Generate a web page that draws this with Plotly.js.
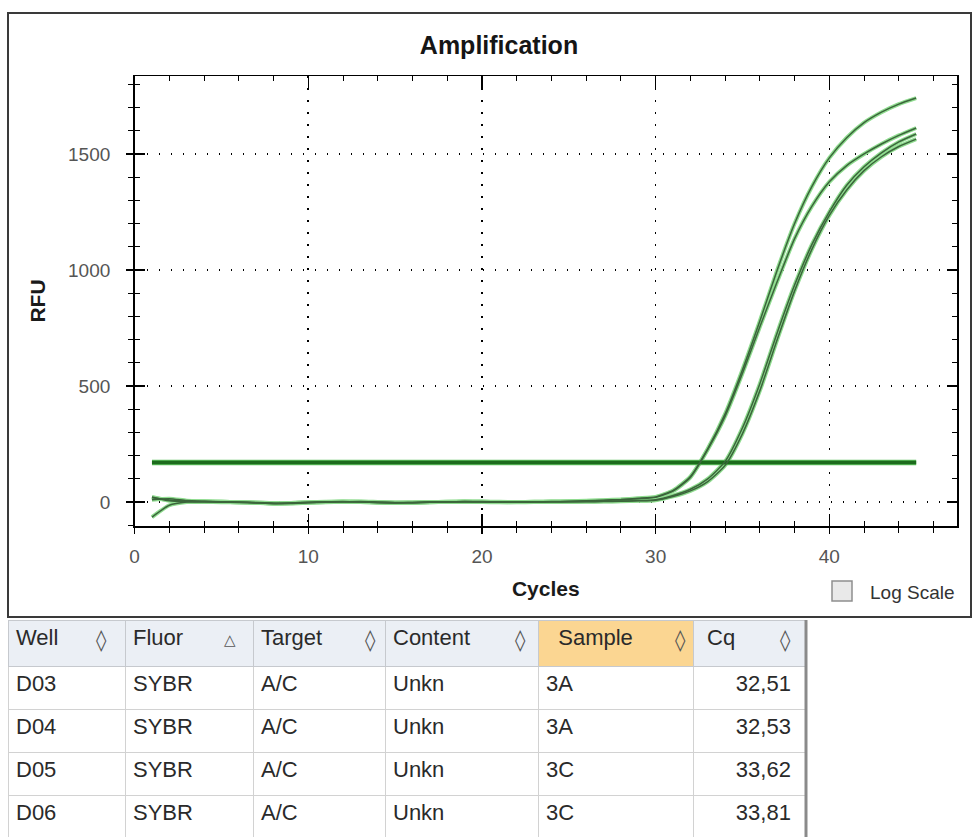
<!DOCTYPE html>
<html>
<head>
<meta charset="utf-8">
<script src="https://cdn.plot.ly/plotly-3.0.1.min.js"></script>
<style>
html, body { margin: 0; padding: 0; background: #ffffff; }
#chart { width: 976px; height: 837px; }
</style>
</head>
<body>
<div id="chart"></div>
<script>
// ---------- data ----------
const cycles = [1,2,3,4,5,6,7,8,9,10,11,12,13,14,15,16,17,18,19,20,21,22,23,24,25,26,27,28,29,30,31,32,33,34,35,36,37,38,39,40,41,42,43,44,45];

const rfuD03 = [18,9,4,2,1,-1,-4,-7,-5,-2,0,1,0,-2,-3,-2,0,1,2,1,0,0,1,2,3,5,8,11,16,22,50,110,230,380,570,780,1000,1200,1360,1483,1570,1635,1680,1715,1741];
const rfuD04 = [10,14,6,3,1,0,-2,-5,-6,-3,-1,1,2,0,-2,-3,-1,0,2,2,1,0,0,1,2,4,7,10,14,20,47,106,226,370,555,755,950,1135,1275,1380,1450,1500,1543,1580,1612];
const rfuD05 = [22,5,1,0,-1,-2,-3,-6,-4,-1,1,2,0,-3,-4,-2,0,1,1,0,-1,0,1,1,1,2,3,4,6,10,28,55,100,175,320,510,730,935,1110,1250,1365,1445,1505,1552,1586];
const rfuD06 = [-65,-14,0,2,1,-1,-3,-5,-4,-2,0,1,1,-1,-3,-3,-1,0,1,1,0,-1,0,1,1,1,2,3,5,8,24,48,88,158,295,480,700,910,1090,1235,1345,1428,1488,1532,1564];

const thresholdCycles = [1, 45];
const thresholdRFU = [170, 170];

const columnNames = ['Well', 'Fluor', 'Target', 'Content', 'Sample', 'Cq'];
const wells    = ['D03', 'D04', 'D05', 'D06'];
const fluors   = ['SYBR', 'SYBR', 'SYBR', 'SYBR'];
const targets  = ['A/C', 'A/C', 'A/C', 'A/C'];
const contents = ['Unkn', 'Unkn', 'Unkn', 'Unkn'];
const samples  = ['3A', '3A', '3C', '3C'];
const cqValues = [32.51, 32.53, 33.62, 33.81];
const sortGlyphs = ['\u25CA', '\u25B3', '\u25CA', '\u25CA', '\u25CA', '\u25CA'];

const chartTitle = 'Amplification';
const xTitle = 'Cycles';
const yTitle = 'RFU';
const logScaleLabel = 'Log Scale';

// ---------- helpers (pixel -> paper) ----------
const W = 976, H = 837;
const px = x => x / W;
const py = y => 1 - y / H;

const FONT = 'Liberation Sans, Arial, sans-serif';
const series = [rfuD03, rfuD04, rfuD05, rfuD06];

const traces = [];
// light green halo layer
series.forEach(s => traces.push({
  type: 'scatter', mode: 'lines', x: cycles, y: s,
  line: { color: '#8fdc8f', width: 4, shape: 'spline', smoothing: 0.6 },
  hoverinfo: 'skip', showlegend: false
}));
// threshold
traces.push({
  type: 'scatter', mode: 'lines', x: thresholdCycles, y: thresholdRFU,
  line: { color: '#5cbf5c', width: 5.5 }, hoverinfo: 'skip', showlegend: false
});
traces.push({
  type: 'scatter', mode: 'lines', x: thresholdCycles, y: thresholdRFU,
  line: { color: '#1d6b1d', width: 3.5 }, hoverinfo: 'skip', showlegend: false
});
// dark core layer
series.forEach((s, i) => traces.push({
  type: 'scatter', mode: 'lines', x: cycles, y: s, name: wells[i],
  line: { color: '#3b653b', width: 1.5, shape: 'spline', smoothing: 0.6 },
  showlegend: false
}));
// empty trace for the overlay (inside-tick) axes
traces.push({ type: 'scatter', mode: 'lines', x: [], y: [], xaxis: 'x2', yaxis: 'y2', showlegend: false, hoverinfo: 'skip' });

// table
const headerFill = columnNames.map(c => c === 'Sample' ? '#fbd692' : '#ebeff5');
const headerText = columnNames.map(c => c === 'Sample' ? '\u00a0\u00a0' + c : (c === 'Cq' ? '\u00a0' + c : c));
const cqText = cqValues.map(v => v.toFixed(2).replace('.', ','));
traces.push({
  type: 'table',
  domain: { x: [px(8), px(805)], y: [0, py(620)] },
  columnwidth: [117, 128, 132, 153, 155, 112],
  header: {
    values: headerText,
    align: 'left',
    height: 46,
    fill: { color: headerFill },
    line: { color: '#c6c9ce', width: 1 },
    font: { family: FONT, size: 22, color: '#2a2a2a' }
  },
  cells: {
    values: [wells, fluors, targets, contents, samples, cqText],
    align: ['left', 'left', 'left', 'left', 'left', 'right'],
    suffix: ['', '', '', '', '', '\u00a0'],
    height: 43,
    fill: { color: '#ffffff' },
    line: { color: '#d2d2d2', width: 1 },
    font: { family: FONT, size: 22, color: '#2a2a2a' }
  }
});

const xDomain = [px(134.6), px(957)];
const yDomain = [py(526), py(76)];
const xRange = [0, 47.35];
const yRange = [-103.4, 1836];

const gridDash = '1.6px,10.4px';

const layout = {
  width: W, height: H,
  margin: { l: 0, r: 0, t: 0, b: 0, pad: 0 },
  paper_bgcolor: '#ffffff', plot_bgcolor: '#ffffff',
  showlegend: false,
  title: {
    text: chartTitle,
    font: { family: FONT, size: 25, weight: 'bold', color: '#151515' },
    x: px(499), xref: 'paper', xanchor: 'center',
    y: py(45), yref: 'container', yanchor: 'middle'
  },
  xaxis: {
    domain: xDomain, range: xRange, anchor: 'y',
    showline: true, linecolor: '#000', linewidth: 1.5, mirror: true,
    ticks: 'outside', ticklen: 6, tickwidth: 1.5, tickcolor: '#000',
    tick0: 0, dtick: 10,
    minor: { dtick: 2, tick0: 0, ticks: 'outside', ticklen: 5, tickwidth: 1, tickcolor: '#000', showgrid: false },
    showgrid: true, gridcolor: '#000', gridwidth: 1.6, griddash: gridDash,
    zeroline: false,
    tickfont: { family: FONT, size: 19, color: '#555' },
    ticklabelstandoff: 7,
    title: { text: xTitle, font: { family: FONT, size: 21, weight: 'bold', color: '#1a1a1a' }, standoff: 15 }
  },
  yaxis: {
    domain: yDomain, range: yRange, anchor: 'x',
    showline: true, linecolor: '#000', linewidth: 1.5, mirror: true,
    ticks: 'outside', ticklen: 7, tickwidth: 1.5, tickcolor: '#000',
    tick0: 0, dtick: 500,
    minor: { dtick: 100, tick0: 0, ticks: 'outside', ticklen: 5, tickwidth: 1, tickcolor: '#000', showgrid: false },
    showgrid: true, gridcolor: '#000', gridwidth: 1.6, griddash: gridDash,
    zeroline: false,
    tickfont: { family: FONT, size: 19, color: '#555' },
    ticklabelstandoff: 12,
    title: { text: yTitle, font: { family: FONT, size: 21, weight: 'bold', color: '#1a1a1a' }, standoff: 16 }
  },
  xaxis2: {
    overlaying: 'x', anchor: 'y2', domain: xDomain, range: xRange,
    showline: false, mirror: 'ticks',
    ticks: 'inside', ticklen: 12, tickwidth: 1.5, tickcolor: '#000',
    tick0: 0, dtick: 10,
    minor: { dtick: 2, tick0: 0, ticks: 'inside', ticklen: 5, tickwidth: 1, tickcolor: '#000', showgrid: false },
    showgrid: false, zeroline: false, showticklabels: false
  },
  yaxis2: {
    overlaying: 'y', anchor: 'x2', domain: yDomain, range: yRange,
    showline: false, mirror: 'ticks',
    ticks: 'inside', ticklen: 10, tickwidth: 1.5, tickcolor: '#000',
    tick0: 0, dtick: 500,
    minor: { dtick: 100, tick0: 0, ticks: 'inside', ticklen: 5, tickwidth: 1, tickcolor: '#000', showgrid: false },
    showgrid: false, zeroline: false, showticklabels: false
  },
  shapes: [
    // outer chart frame
    { type: 'rect', xref: 'paper', yref: 'paper', x0: px(8), x1: px(971), y0: py(617), y1: py(13),
      line: { color: '#3a3a3a', width: 2 }, fillcolor: 'rgba(0,0,0,0)', layer: 'below' },
    // log scale checkbox
    { type: 'rect', xref: 'paper', yref: 'paper', x0: px(832), x1: px(852), y0: py(601), y1: py(581),
      line: { color: '#8e8e8e', width: 1.5 }, fillcolor: '#e9e9e9' },
    // table right border
    { type: 'line', xref: 'paper', yref: 'paper', x0: px(806), x1: px(806), y0: 0, y1: py(620),
      line: { color: '#8a8a8a', width: 3 } }
  ],
  annotations: [
    { text: logScaleLabel, xref: 'paper', yref: 'paper', x: px(868), y: py(592), xanchor: 'left', yanchor: 'middle',
      showarrow: false, font: { family: FONT, size: 19, color: '#333' } }
  ]
};

// header sort glyphs
const glyphX = [101, 230, 370, 520, 680, 785];
glyphX.forEach((gx, i) => layout.annotations.push({
  text: sortGlyphs[i], xref: 'paper', yref: 'paper', x: px(gx), y: py(640),
  xanchor: 'center', yanchor: 'middle', showarrow: false,
  font: { family: 'DejaVu Sans, sans-serif', size: i === 1 ? 15 : 21, color: '#555' }
}));

Plotly.newPlot('chart', traces, layout, { staticPlot: true, displayModeBar: false });
</script>
</body>
</html>
